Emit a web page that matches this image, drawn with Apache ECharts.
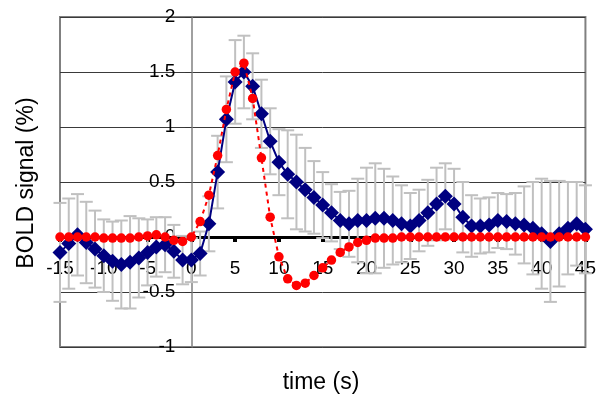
<!DOCTYPE html>
<html>
<head>
<meta charset="utf-8">
<script src="https://cdn.jsdelivr.net/npm/echarts@6/dist/echarts.min.js"></script>
<style>
html,body{margin:0;padding:0;background:#fff;}
#c{width:599px;height:402px;}
</style>
</head>
<body>
<div id="c"></div>
<script>
// time points (s)
var times = [-15,-14,-13,-12,-11,-10,-9,-8,-7,-6,-5,-4,-3,-2,-1,0,1,2,3,4,5,6,7,8,9,10,11,12,13,14,15,16,17,18,19,20,21,22,23,24,25,26,27,28,29,30,31,32,33,34,35,36,37,38,39,40,41,42,43,44,45];
// measured BOLD signal (blue diamonds)
var measured = [-0.14,-0.06,0.02,-0.05,-0.11,-0.17,-0.22,-0.25,-0.23,-0.19,-0.14,-0.09,-0.07,-0.13,-0.21,-0.21,-0.15,0.12,0.59,1.07,1.41,1.50,1.37,1.12,0.87,0.68,0.57,0.50,0.43,0.36,0.29,0.22,0.15,0.12,0.15,0.15,0.17,0.17,0.15,0.12,0.10,0.15,0.22,0.30,0.37,0.30,0.18,0.10,0.10,0.11,0.15,0.14,0.12,0.11,0.08,0.03,-0.04,0.03,0.08,0.12,0.07];
// error (± half-length of grey bars)
var errors = [0.45,0.41,0.37,0.37,0.35,0.33,0.36,0.40,0.42,0.36,0.30,0.27,0.25,0.24,0.22,0.20,0.20,0.25,0.33,0.39,0.38,0.33,0.30,0.31,0.30,0.30,0.40,0.43,0.38,0.33,0.30,0.26,0.26,0.30,0.38,0.48,0.50,0.45,0.40,0.35,0.30,0.28,0.30,0.33,0.30,0.32,0.32,0.28,0.25,0.25,0.25,0.25,0.28,0.35,0.42,0.50,0.55,0.48,0.42,0.38,0.40];
// model fit (red dots)
var model = [0,0,0,0,0,-0.01,-0.01,-0.01,-0.01,0,0.01,0.02,0,-0.03,-0.04,0,0.14,0.38,0.74,1.16,1.50,1.58,1.26,0.72,0.18,-0.18,-0.38,-0.44,-0.42,-0.35,-0.28,-0.21,-0.14,-0.09,-0.05,-0.03,-0.01,-0.01,-0.01,0,0,0,0,0,0,0,0,0,0,0,0,0,0,0,0,0,0,0,0,0,0];
var xTitle = 'time (s)';
var yTitle = 'BOLD signal (%)';

var blueData = times.map(function(t,i){return [t, measured[i]];});
var redData = times.map(function(t,i){return [t, model[i]];});
var errData = times.map(function(t,i){return [t, measured[i]-errors[i], measured[i]+errors[i]];});

var G = {left:60, top:17, width:527, height:330};
var chart = echarts.init(document.getElementById('c'), null, {renderer:'canvas'});
var fontFam = 'Liberation Sans, Arial, sans-serif';
chart.setOption({
  animation:false,
  backgroundColor:'#ffffff',
  grid:{left:G.left, top:G.top, width:G.width, height:G.height, show:true, borderColor:'#808080', borderWidth:2, backgroundColor:'transparent'},
  xAxis:{
    type:'value', min:-15, max:45, interval:5, position:'bottom', offset:0,
    axisLine:{show:true, onZero:false, lineStyle:{color:'#000', width:3}},
    axisTick:{show:true, length:5, lineStyle:{color:'#000', width:4}},
    axisLabel:{fontSize:19, color:'#000', fontFamily:fontFam, margin:22},
    splitLine:{show:false}
  },
  yAxis:{
    type:'value', min:-1, max:2, interval:0.5, position:'left', offset:0,
    axisLine:{show:true, onZero:false, lineStyle:{color:'#808080', width:1.5}},
    axisTick:{show:true, length:6, lineStyle:{color:'#333'}},
    axisLabel:{fontSize:19, color:'#000', fontFamily:fontFam, margin:16},
    splitLine:{show:true, lineStyle:{color:'#3a3a3a', width:1}}
  },
  graphic:[
    {type:'text', x:321, y:383, style:{text:xTitle, font:'23px '+fontFam, fill:'#000', textAlign:'center', textVerticalAlign:'middle'}},
    {type:'text', rotation:Math.PI/2, x:27, y:183, style:{text:yTitle, font:'23px '+fontFam, fill:'#000', textAlign:'center', textVerticalAlign:'middle'}}
  ],
  series:[
    {
      type:'custom', z:1, silent:true,
      data:errData,
      encode:{x:0, y:[1,2]},
      renderItem:function(params, api){
        var lo = api.coord([api.value(0), api.value(1)]);
        var hi = api.coord([api.value(0), api.value(2)]);
        var hw = 6.5;
        var st = {stroke:'#c0c0c0', lineWidth:2};
        return {type:'group', children:[
          {type:'line', shape:{x1:lo[0], y1:lo[1], x2:hi[0], y2:hi[1]}, style:st},
          {type:'line', shape:{x1:lo[0]-hw, y1:lo[1], x2:lo[0]+hw, y2:lo[1]}, style:st},
          {type:'line', shape:{x1:hi[0]-hw, y1:hi[1], x2:hi[0]+hw, y2:hi[1]}, style:st}
        ]};
      }
    },
    {
      type:'line', z:3, data:blueData, symbol:'diamond', symbolSize:15,
      itemStyle:{color:'#000080'}, lineStyle:{color:'#000080', width:2}
    },
    {
      type:'line', z:4, data:redData, symbol:'circle', symbolSize:9.5,
      itemStyle:{color:'#ff0000'}, lineStyle:{color:'#ff0000', width:2, type:[4,4]}
    }
  ]
});
// place the axes on the zero lines, using the library's own scale
var p0 = chart.convertToPixel({gridIndex:0}, [0, 0]);
chart.setOption({
  xAxis:{offset: -((G.top + G.height) - p0[1])},
  yAxis:{offset: -(p0[0] - G.left)}
});
</script>
</body>
</html>
